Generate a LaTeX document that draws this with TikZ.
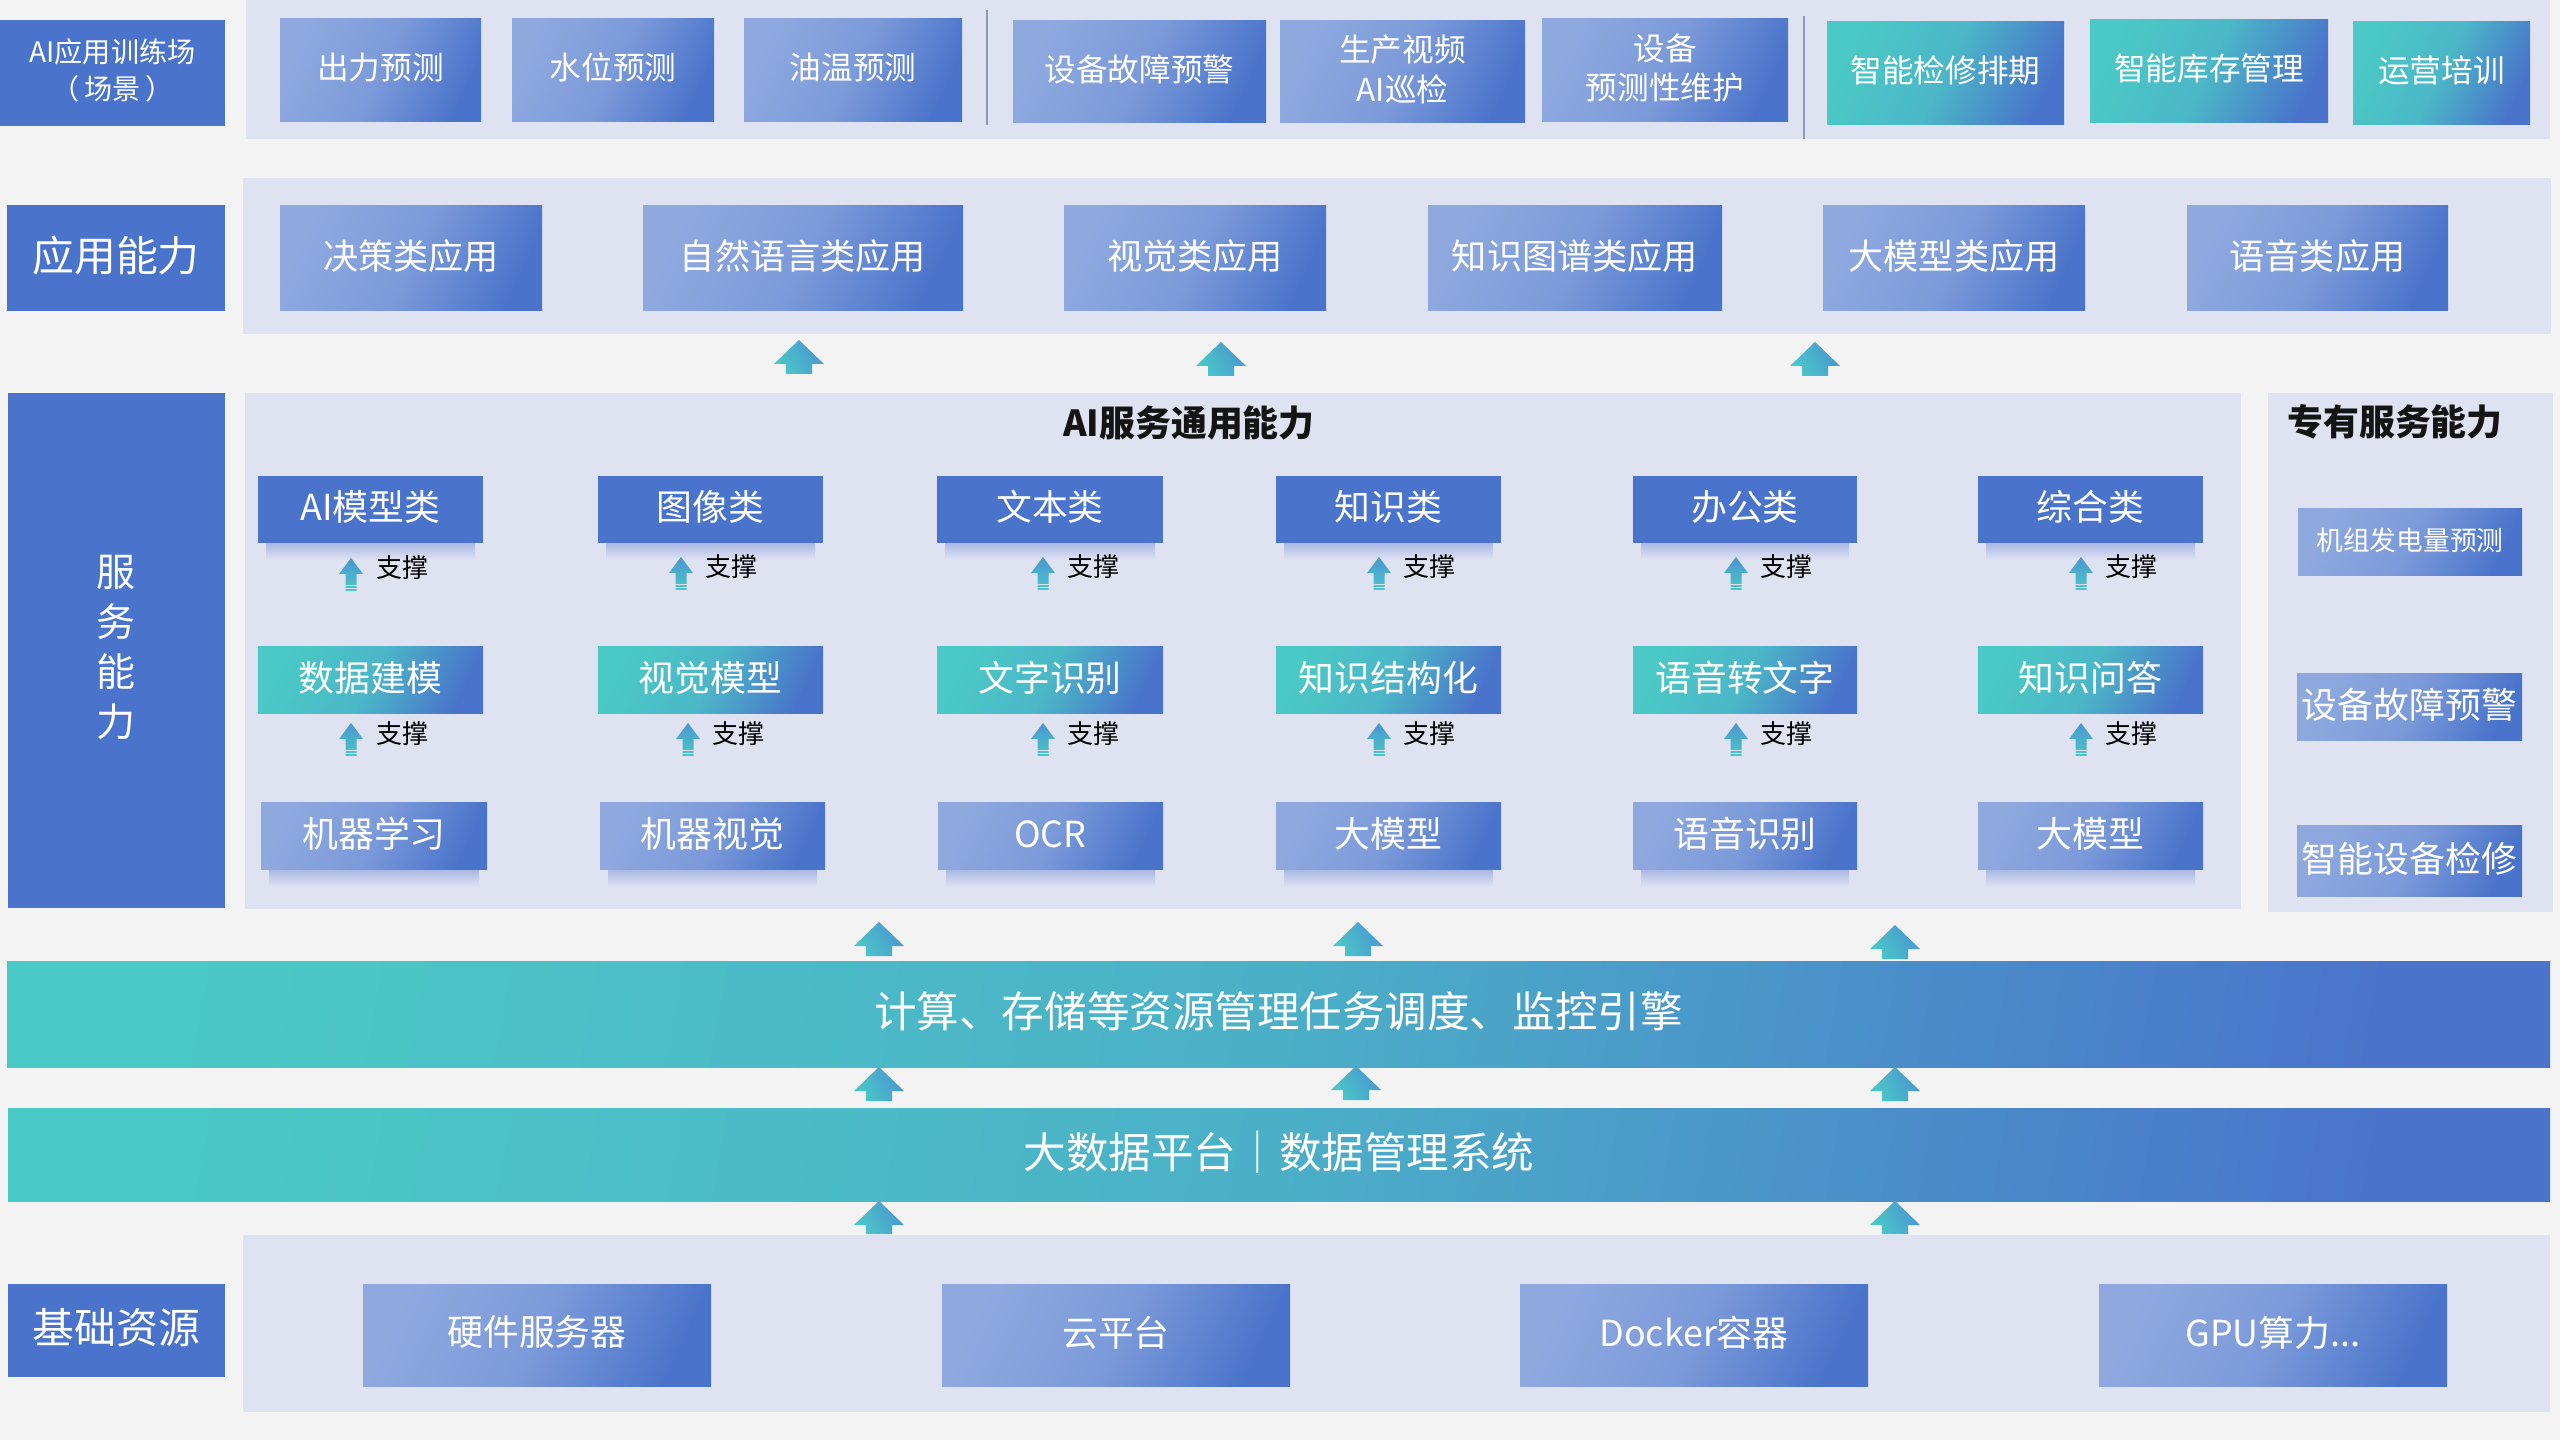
\documentclass[tikz,border=0pt]{standalone}
\usepackage{fontspec}
\setmainfont{Noto Sans CJK SC}
\definecolor{bg}{HTML}{F3F3F3}
\definecolor{panel}{HTML}{DFE3F1}
\definecolor{dk}{HTML}{4A74CB}
\definecolor{lt}{HTML}{8FA9DF}
\definecolor{tl}{HTML}{4BC9C6}
\definecolor{arT}{HTML}{4AC8C8}
\definecolor{arB}{HTML}{4A96CF}
\definecolor{shc}{HTML}{A6B4E4}
\definecolor{sepc}{HTML}{8E9AB3}
\newcommand\fpx[2]{\fontsize{#1pt}{#2pt}\selectfont}
% panel: name, x1, y1, x2, y2
\newcommand\PN[5]{\node[pnl, minimum width={(#4-#2)*0.01cm}, minimum height={(#5-#3)*0.01cm}] (#1) at ({(#2+#4)/2},{(#3+#5)/2}) {};}
% box: box style, text style, name, x1, y1, x2, y2, text
\newcommand\BX[8]{\node[#1, minimum width={(#6-#4)*0.01cm}, minimum height={(#7-#5)*0.01cm}] (#3) at ({(#4+#6)/2},{(#5+#7)/2}) {};
  \node[txt,#2] (#3t) at ([yshift=0.75pt]#3.center) {#8};}
% shadow: x1, x2, ybottom
\newcommand\SH[3]{\shade[top color=shc, bottom color=panel] (#1+8,#3-2) rectangle (#2-8,#3+17);}
% big arrow: cx, ytop, ybottom
\newcommand\BA[3]{\shade[left color=arT, right color=arB, shading angle=120] (#1,#2) -- (#1+25,#2+24) -- (#1+13,#2+24) -- (#1+13,#3) -- (#1-13,#3) -- (#1-13,#2+24) -- (#1-25,#2+24) -- cycle;}
% small arrow: cx, ytop, ybottom
\newcommand\SA[3]{\shade[top color=arB, bottom color=arT] (#1,#2) -- (#1+12,#2+16) -- (#1+5.5,#2+16) -- (#1+5.5,#3) -- (#1-5.5,#3) -- (#1-5.5,#2+16) -- (#1-12,#2+16) -- cycle;
 \draw[panel, line width=0.3pt] (#1-7,#3-5.5) -- (#1+7,#3-5.5) (#1-7,#3-2.5) -- (#1+7,#3-2.5);}
\tikzset{
  base/.style={inner sep=0pt, outer sep=0pt},
  txt/.style={inner sep=0pt, outer sep=0pt, text=white, align=center},
  dkbox/.style={base, fill=dk},
  ltbox/.style={base, left color=lt, right color=dk, middle color=lt!72!dk, shading angle=65},
  tlbox/.style={base, left color=tl, right color=dk, middle color=tl!78!dk, shading angle=65},
  barbox/.style={base, left color=tl, right color=dk, middle color=tl!70!dk, shading angle=80},
  pnl/.style={base, fill=panel},
  ttl/.style={inner sep=0pt, text=black!92, font=\fpx{10.2}{12}\bfseries},
  sup/.style={inner sep=0pt, anchor=west, text=black, font=\fpx{7.4}{9}},
  sepline/.style={sepc, line width=0.45pt},
  f1/.style={font=\fpx{9}{11.3}},
  f2/.style={font=\fpx{10}{12}},
  f3/.style={font=\fpx{10.2}{12}},
  flab/.style={font=\fpx{11.9}{14}},
  fbar/.style={font=\fpx{12.1}{14}},
}
\begin{document}
\begin{tikzpicture}[x=0.01cm, y=-0.01cm]
\useasboundingbox (0,0) rectangle (2560,1440);
\fill[bg] (0,0) rectangle (2560,1440);

% ---------- panels ----------
\PN{pA}{246}{0}{2550}{139}
\PN{pB}{243}{178}{2551}{334}
\PN{pC}{245}{393}{2241}{909}
\PN{pD}{2268}{393}{2553}{912}
\PN{pE}{243}{1235}{2550}{1412}

% ---------- left labels ----------
\BX{dkbox}{font=\fpx{8}{10.5}}{lA}{0}{20}{225}{126}{AI应用训练场\\（\,场景\,）}
\BX{dkbox}{flab}{lB}{7}{205}{225}{311}{应用能力}
\BX{dkbox}{font=\fpx{11.1}{14.2}}{lC}{8}{393}{225}{908}{服\\务\\能\\力}
\BX{dkbox}{flab}{lD}{8}{1284}{225}{1377}{基础资源}

% ---------- row 1: scenarios ----------
\BX{ltbox}{f1}{s1}{280}{19}{481}{122}{出力预测}
\BX{ltbox}{f1}{s2}{512}{19}{714}{122}{水位预测}
\BX{ltbox}{f1}{s3}{744}{19}{962}{122}{油温预测}
\draw[sepline] (987,10) -- (987,125);
\BX{ltbox}{f1}{s4}{1013}{21}{1266}{123}{设备故障预警}
\BX{ltbox}{f1}{s5}{1280}{21}{1525}{123}{生产视频\\AI巡检}
\BX{ltbox}{f1}{s6}{1542}{19}{1788}{122}{设备\\预测性维护}
\draw[sepline] (1804,16) -- (1804,139);
\BX{tlbox}{f1}{s7}{1827}{22}{2064}{125}{智能检修排期}
\BX{tlbox}{f1}{s8}{2090}{20}{2328}{123}{智能库存管理}
\BX{tlbox}{f1}{s9}{2353}{22}{2530}{125}{运营培训}

% ---------- row 2: application ----------
\BX{ltbox}{f2}{a1}{280}{206}{542}{311}{决策类应用}
\BX{ltbox}{f2}{a2}{643}{206}{963}{311}{自然语言类应用}
\BX{ltbox}{f2}{a3}{1064}{206}{1326}{311}{视觉类应用}
\BX{ltbox}{f2}{a4}{1428}{206}{1722}{311}{知识图谱类应用}
\BX{ltbox}{f2}{a5}{1823}{206}{2085}{311}{大模型类应用}
\BX{ltbox}{f2}{a6}{2187}{206}{2448}{311}{语音类应用}

\BA{799}{340}{374}
\BA{1221}{342}{376}
\BA{1815}{342}{376}

% ---------- row 3: service ----------
\node[ttl] (tC) at (1189,423) {AI服务通用能力};
\node[ttl] (tD) at (2395,422) {专有服务能力};

\SH{258}{483}{543}
\SH{598}{823}{543}
\SH{937}{1163}{543}
\SH{1276}{1501}{543}
\SH{1633}{1857}{543}
\SH{1978}{2203}{543}
\SH{261}{487}{870}
\SH{600}{825}{870}
\SH{938}{1163}{870}
\SH{1276}{1501}{870}
\SH{1633}{1857}{870}
\SH{1978}{2203}{870}

\BX{dkbox}{f3}{g11}{258}{476}{483}{543}{AI模型类}
\BX{dkbox}{f3}{g12}{598}{476}{823}{543}{图像类}
\BX{dkbox}{f3}{g13}{937}{476}{1163}{543}{文本类}
\BX{dkbox}{f3}{g14}{1276}{476}{1501}{543}{知识类}
\BX{dkbox}{f3}{g15}{1633}{476}{1857}{543}{办公类}
\BX{dkbox}{f3}{g16}{1978}{476}{2203}{543}{综合类}

\BX{tlbox}{f3}{g21}{258}{647}{483}{714}{数据建模}
\BX{tlbox}{f3}{g22}{598}{647}{823}{714}{视觉模型}
\BX{tlbox}{f3}{g23}{937}{647}{1163}{714}{文字识别}
\BX{tlbox}{f3}{g24}{1276}{647}{1501}{714}{知识结构化}
\BX{tlbox}{f3}{g25}{1633}{647}{1857}{714}{语音转文字}
\BX{tlbox}{f3}{g26}{1978}{647}{2203}{714}{知识问答}

\BX{ltbox}{f3}{g31}{261}{803}{487}{870}{机器学习}
\BX{ltbox}{f3}{g32}{600}{803}{825}{870}{机器视觉}
\BX{ltbox}{f3}{g33}{938}{803}{1163}{870}{OCR}
\BX{ltbox}{f3}{g34}{1276}{803}{1501}{870}{大模型}
\BX{ltbox}{f3}{g35}{1633}{803}{1857}{870}{语音识别}
\BX{ltbox}{f3}{g36}{1978}{803}{2203}{870}{大模型}

% support arrows
\SA{351}{558}{591}  \node[sup] (u11) at (376,568) {支撑};
\SA{681}{557}{590}  \node[sup] (u12) at (705,567) {支撑};
\SA{1043}{557}{590} \node[sup] (u13) at (1067,567) {支撑};
\SA{1379}{557}{590} \node[sup] (u14) at (1403,567) {支撑};
\SA{1736}{557}{590} \node[sup] (u15) at (1760,567) {支撑};
\SA{2081}{557}{590} \node[sup] (u16) at (2105,567) {支撑};
\SA{351}{723}{756}  \node[sup] (u21) at (376,734) {支撑};
\SA{688}{723}{756}  \node[sup] (u22) at (712,734) {支撑};
\SA{1043}{723}{756} \node[sup] (u23) at (1067,734) {支撑};
\SA{1379}{723}{756} \node[sup] (u24) at (1403,734) {支撑};
\SA{1736}{723}{756} \node[sup] (u25) at (1760,734) {支撑};
\SA{2081}{723}{756} \node[sup] (u26) at (2105,734) {支撑};

% exclusive services
\BX{ltbox}{font=\fpx{7.6}{9}}{r1}{2298}{509}{2522}{576}{机组发电量预测}
\BX{ltbox}{f3}{r2}{2297}{674}{2522}{741}{设备故障预警}
\BX{ltbox}{f3}{r3}{2297}{826}{2522}{897}{智能设备检修}

% ---------- bars ----------
\BA{879}{922}{956}
\BA{1358}{922}{956}
\BA{1895}{925}{959}
\BX{barbox}{fbar}{bar1}{7}{961}{2550}{1067}{计算、存储等资源管理任务调度、监控引擎}
\BA{879}{1067}{1101}
\BA{1356}{1066}{1100}
\BA{1895}{1067}{1101}
\BX{barbox}{fbar}{bar2}{8}{1108}{2550}{1201}{大数据平台｜数据管理系统}
\BA{879}{1201}{1234}
\BA{1895}{1201}{1234}

% ---------- base resources ----------
\BX{ltbox}{f3}{b1}{363}{1284}{711}{1386}{硬件服务器}
\BX{ltbox}{f3}{b2}{942}{1284}{1290}{1386}{云平台}
\BX{ltbox}{f3}{b3}{1520}{1284}{1868}{1386}{Docker容器}
\BX{ltbox}{f3}{b4}{2099}{1284}{2447}{1386}{GPU算力...}
\end{tikzpicture}
\end{document}
